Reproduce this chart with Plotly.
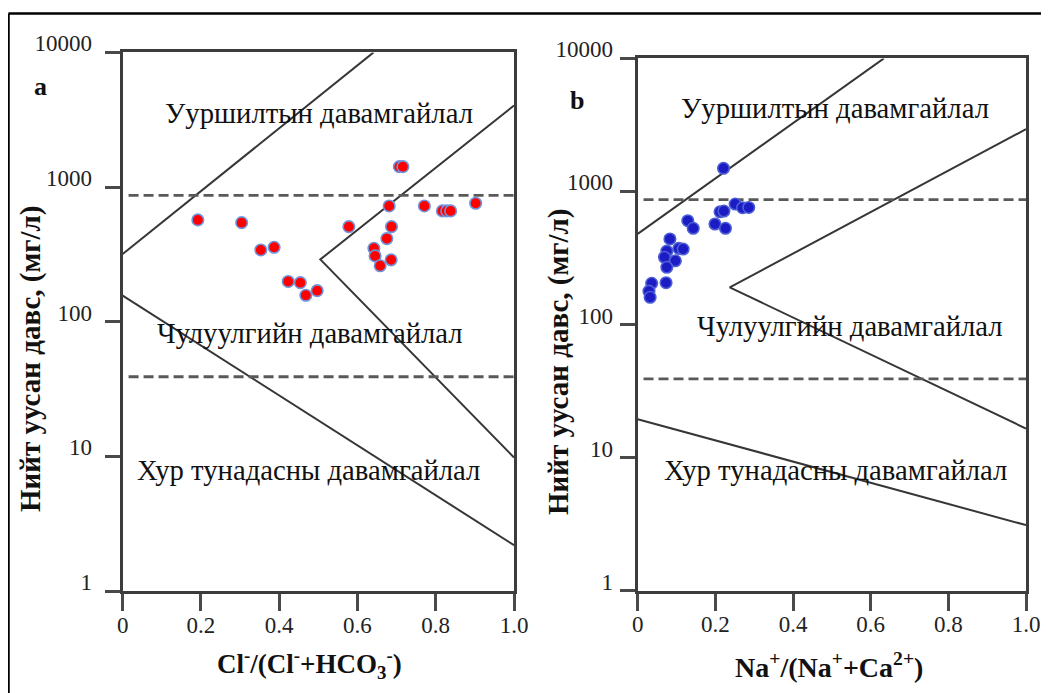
import plotly.graph_objects as go

# ---------------- data ----------------
# Panel a: Cl-/(Cl- + HCO3-) vs TDS (mg/L)
a_ratio = [0.192, 0.304, 0.353, 0.387, 0.423, 0.454, 0.468, 0.497, 0.578,
           0.642, 0.645, 0.658, 0.686, 0.675, 0.687, 0.681, 0.707, 0.716,
           0.771, 0.817, 0.828, 0.838, 0.902]
a_tds = [570, 544, 341, 357, 199, 195, 157, 170, 508,
         351, 308, 260, 288, 414, 508, 724, 1417, 1417,
         724, 665, 665, 665, 758]

# Panel b: Na+/(Na+ + Ca2+) vs TDS (mg/L)
b_ratio = [0.221, 0.251, 0.270, 0.286, 0.212, 0.222, 0.199, 0.226, 0.129,
           0.143, 0.083, 0.075, 0.069, 0.106, 0.117, 0.097, 0.075, 0.073,
           0.036, 0.029, 0.032]
b_tds = [1492, 804, 754, 758, 703, 712, 569, 528, 602,
         528, 439, 356, 320, 373, 369, 301, 269, 206,
         204, 178, 160]

# Gibbs boundary lines (x, TDS)
a_upper_x = [0.0, 0.641]
a_upper_y = [318, 10000]
a_lower_x = [0.0, 1.0]
a_lower_y = [156, 2.19]
a_chevron_x = [1.0, 0.505, 1.0]
a_chevron_y = [4033, 290, 9.8]

b_upper_x = [0.0, 0.634]
b_upper_y = [480, 10000]
b_lower_x = [0.0, 1.0]
b_lower_y = [19.4, 3.1]
b_chevron_x = [1.0, 0.237, 1.0]
b_chevron_y = [2936, 190, 16.5]

dash_x = [0.015, 1.0]
dash_high = [868, 868]
dash_low = [39, 39]

y_tickvals = [1, 10, 100, 1000, 10000]
y_ticktext = ["1", "10", "100", "1000", "10000"]
x_tickvals = [0, 0.2, 0.4, 0.6, 0.8, 1.0]
x_ticktext = ["0", "0.2", "0.4", "0.6", "0.8", "1.0"]

region_labels = ["Ууршилтын давамгайлал", "Чулуулгийн давамгайлал", "Хур тунадасны давамгайлал"]
y_title = "<b>Нийт уусан давс, (мг/л)</b>"
xa_title = "<b>Cl<sup>-</sup>/(Cl<sup>-</sup>+HCO<sub>3</sub><sup>-</sup>)</b>"
xb_title = "<b>Na<sup>+</sup>/(Na<sup>+</sup>+Ca<sup>2+</sup>)</b>"

# ---------------- figure ----------------
OFF = 8  # page body margin
W, H = 1049 - OFF, 693 - OFF
SERIF = "Times New Roman, Liberation Serif, Tinos, DejaVu Serif, serif"
LINE_C = "#363636"
DASH_C = "#595959"

fig = go.Figure()

def add_lines(xa, ya, xs_list, ys_list):
    for xs, ys in zip(xs_list, ys_list):
        fig.add_trace(go.Scatter(x=xs, y=ys, mode="lines", xaxis=xa, yaxis=ya,
                                 line=dict(color=LINE_C, width=2), hoverinfo="skip",
                                 showlegend=False))
    for yy in (dash_high, dash_low):
        fig.add_trace(go.Scatter(x=dash_x, y=yy, mode="lines", xaxis=xa, yaxis=ya,
                                 line=dict(color=DASH_C, width=2.8, dash="10px,5px"),
                                 hoverinfo="skip", showlegend=False))

add_lines("x", "y", [a_upper_x, a_lower_x, a_chevron_x], [a_upper_y, a_lower_y, a_chevron_y])
add_lines("x2", "y2", [b_upper_x, b_lower_x, b_chevron_x], [b_upper_y, b_lower_y, b_chevron_y])

fig.add_trace(go.Scatter(x=a_ratio, y=a_tds, mode="markers", xaxis="x", yaxis="y",
                         marker=dict(size=11.5, color="#ff0000",
                                     line=dict(color="#6f94dc", width=1.6)),
                         showlegend=False))
fig.add_trace(go.Scatter(x=b_ratio, y=b_tds, mode="markers", xaxis="x2", yaxis="y2",
                         marker=dict(size=11.5, color="#1c1cc4",
                                     line=dict(color="#4d5fd6", width=1.6)),
                         showlegend=False))

def px(xp):
    return (xp - OFF) / W

def py(yp):
    return 1 - (yp - OFF) / H

def xaxis_style(**kw):
    d = dict(range=[0, 1], tickvals=x_tickvals, ticktext=x_ticktext,
             showline=True, linecolor="#3c3c3c", linewidth=3, mirror=True,
             ticks="outside", ticklen=17, tickwidth=3, tickcolor="#4a4a4a",
             showgrid=False, zeroline=False, automargin=False,
             ticklabelstandoff=-6,
             tickfont=dict(family=SERIF, size=23, color="#222"))
    d.update(kw)
    return d

def yaxis_style(standoff, **kw):
    d = dict(type="log", range=[0, 4], tickvals=y_tickvals, ticktext=y_ticktext,
             showline=True, linecolor="#3c3c3c", linewidth=3, mirror=True,
             ticks="outside", ticklen=15, tickwidth=3, tickcolor="#4a4a4a",
             showgrid=False, zeroline=False, automargin=False,
             ticklabelstandoff=standoff, ticklabelshift=-9,
             tickfont=dict(family=SERIF, size=23, color="#222"))
    d.update(kw)
    return d

fig.update_layout(
    width=W, height=H, autosize=False,
    margin=dict(l=0, r=0, t=0, b=0, pad=0, autoexpand=False),
    paper_bgcolor="white", plot_bgcolor="white",
    font=dict(family=SERIF),
    xaxis=xaxis_style(domain=[px(122.7), px(514)], anchor="y"),
    yaxis=yaxis_style(8, domain=[py(591), py(52.4)], anchor="x"),
    xaxis2=xaxis_style(domain=[px(637.7), px(1026)], anchor="y2"),
    yaxis2=yaxis_style(2, domain=[py(590.5), py(58.4)], anchor="x2"),
)

ann = []
def txt(x, y, s, size, angle=0):
    ann.append(dict(x=px(x), y=py(y), xref="paper", yref="paper", text=s,
                    showarrow=False, textangle=angle,
                    font=dict(family=SERIF, size=size, color="#111"),
                    xanchor="center", yanchor="middle"))

RS = 28.7
txt(319, 113, region_labels[0], RS)
txt(310, 333, region_labels[1], RS)
txt(308, 470, region_labels[2], RS)
txt(835, 108, region_labels[0], RS)
txt(850, 326, region_labels[1], RS)
txt(835, 470, region_labels[2], RS)
txt(40, 86, "<b>a</b>", 26)
txt(577, 101, "<b>b</b>", 26)
txt(30, 359, y_title, 29, angle=-90)
txt(558, 362, y_title, 29, angle=-90)
txt(309, 664, xa_title, 27)
txt(829, 665, xb_title, 28)

fig.update_layout(annotations=ann)

# outer frame: top and left edges
fig.add_shape(type="line", xref="paper", yref="paper",
              x0=px(8.5), x1=1.0, y0=py(13.5), y1=py(13.5),
              line=dict(color="black", width=2.5))
fig.add_shape(type="line", xref="paper", yref="paper",
              x0=px(8.5), x1=px(8.5), y0=0.0, y1=py(13.5),
              line=dict(color="black", width=2.5))

fig.write_html("out.html")
